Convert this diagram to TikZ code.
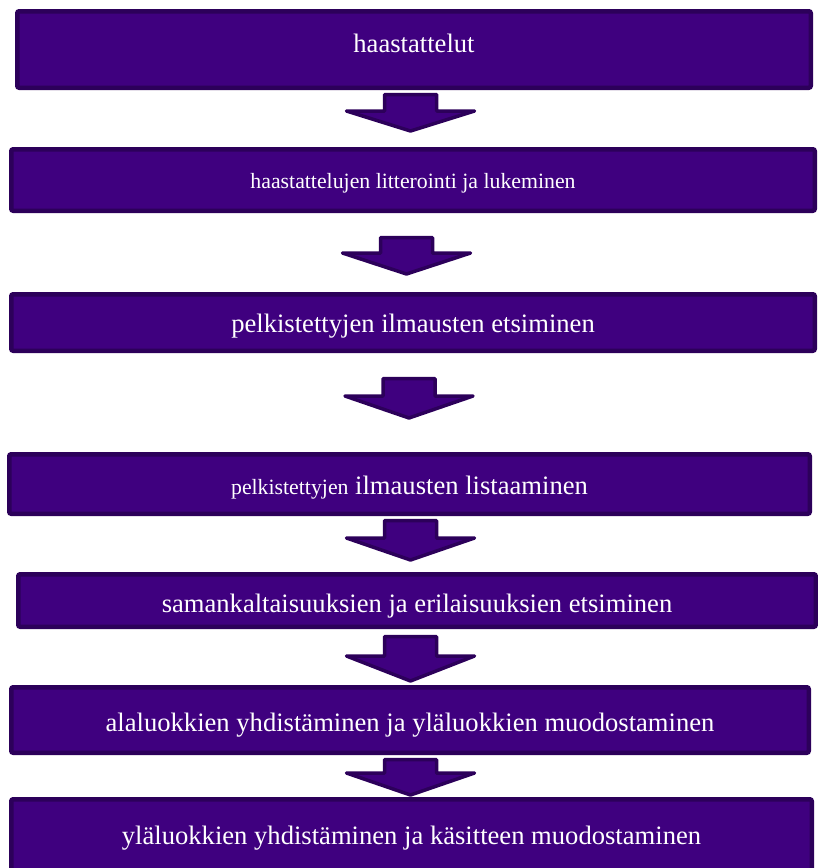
\documentclass[tikz,border=0pt]{standalone}
\usepackage{fontspec}
\setmainfont{Liberation Serif}

\definecolor{stagefill}{HTML}{3F007F}
\definecolor{stageedge}{HTML}{2C005A}

\tikzset{
  stage/.style={draw=stageedge, fill=stagefill, line width=4.5pt,
    rounded corners=2pt, inner sep=0pt, text=white, text depth=0pt,
    font=\fontsize{26.6}{30}\selectfont},
  smalltext/.style={font=\fontsize{21.8}{25}\selectfont},
  flowarrow/.style={draw=stageedge, fill=stagefill, line width=3.5pt,
    line join=round},
}

% #1 name, #2-#5 outer corners (x1,y1,x2,y2), #6 text height (twice the
% baseline offset below the centre), #7 extra options, #8 text
\newcommand{\stagebox}[8]{%
  \node[stage, #7, minimum width={#4-#2-4.5}, minimum height={#5-#3-4.5},
        text height=#6] (#1) at ({(#2+#4)/2},{(#3+#5)/2}) {#8};}

% block arrow: #1 centre x, #2 top, #3 neck, #4 tip
\newcommand{\blockarrow}[4]{%
  \draw[flowarrow] (#1-26,#2+1.5) -- (#1+26,#2+1.5) -- (#1+26,#3)
    -- (#1+64,#3) -- (#1,#4-2) -- (#1-64,#3) -- (#1-26,#3) -- cycle;}

\begin{document}
\begin{tikzpicture}[x=1pt, y=-1pt]
  \useasboundingbox (0,0) rectangle (818,868);

  \stagebox{b1}{15}{9}{813}{90}{5pt}{}{haastattelut}
  \stagebox{b2}{9}{147}{817}{213}{16pt}{smalltext}{haastattelujen litterointi ja lukeminen}
  \stagebox{b3}{9}{292}{817}{353}{19pt}{}{pelkistettyjen ilmausten etsiminen}
  \stagebox{b4}{7}{452}{812}{516}{21pt}{}{{\fontsize{21.8}{25}\selectfont pelkistettyjen} ilmausten listaaminen}
  \stagebox{b5}{16}{572}{818}{629}{24pt}{}{samankaltaisuuksien ja erilaisuuksien etsiminen}
  \stagebox{b6}{9}{685}{811}{755}{22pt}{}{alaluokkien yhdistäminen ja yläluokkien muodostaminen}
  \stagebox{b7}{9}{797}{814}{875}{17pt}{}{yläluokkien yhdistäminen ja käsitteen muodostaminen}

  \blockarrow{410.5}{93}{111}{133}
  \blockarrow{406.5}{236}{253}{276}
  \blockarrow{409}{377}{396}{420}
  \blockarrow{410.5}{519}{538}{562}
  \blockarrow{410.5}{635}{656}{683}
  \blockarrow{410.5}{758}{773}{797}
\end{tikzpicture}
\end{document}
